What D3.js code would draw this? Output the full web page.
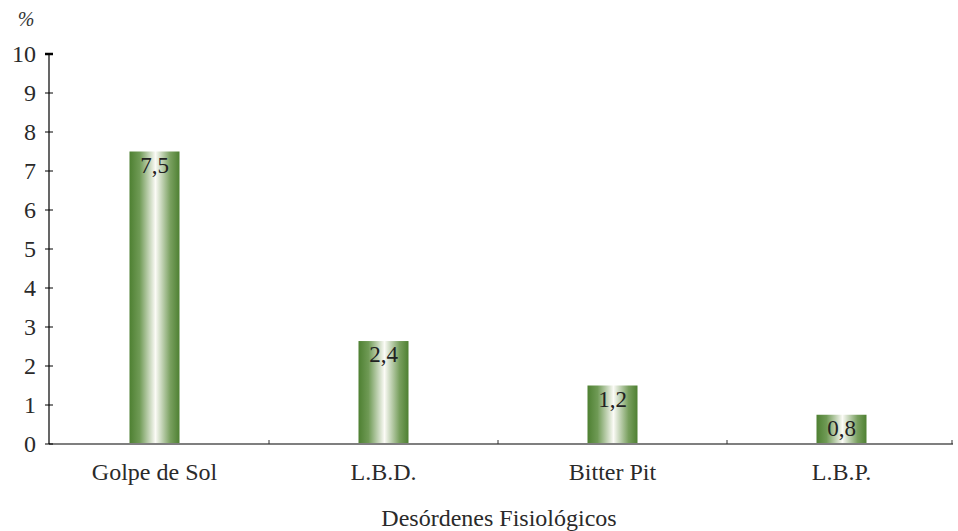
<!DOCTYPE html>
<html><head><meta charset="utf-8">
<script src="https://cdn.jsdelivr.net/npm/d3@7"></script>
<style>html,body{margin:0;padding:0;background:#fff;}svg{display:block;}
svg text{font-family:"Liberation Serif","DejaVu Serif","Noto Serif","Times New Roman",Times,serif;}</style>
</head><body>
<script>
const categories = ["Golpe de Sol", "L.B.D.", "Bitter Pit", "L.B.P."];
const barHeights = [7.5, 2.64, 1.5, 0.75];
const valueLabels = ["7,5", "2,4", "1,2", "0,8"];
const yTicks = [0,1,2,3,4,5,6,7,8,9,10];
const xTitle = "Desórdenes Fisiológicos";
const yUnit = "%";

const W = 958, H = 531;
const svg = d3.select("body").append("svg").attr("width", W).attr("height", H);

const defs = svg.append("defs");
const grad = defs.append("linearGradient").attr("id","barGrad").attr("x1","0").attr("x2","1").attr("y1","0").attr("y2","0");
[[0,"#4e8032"],[0.2,"#6f9a55"],[0.42,"#cfdcc4"],[0.52,"#fbfbf6"],[0.62,"#cfdcc4"],[0.82,"#789f5e"],[1,"#4e8032"]]
  .forEach(([o,c]) => grad.append("stop").attr("offset", o).attr("stop-color", c));

const x = d3.scaleBand().domain(categories).range([40, 956]).paddingInner(0).paddingOuter(0);
const y = d3.scaleLinear().domain([0, 10]).range([444, 54]);
const barW = 50;

svg.selectAll("rect.bar").data(categories).join("rect")
  .attr("class","bar")
  .attr("x", d => x(d) + x.bandwidth()/2 - barW/2)
  .attr("width", barW)
  .attr("y", (d,i) => y(barHeights[i]))
  .attr("height", (d,i) => y(0) - y(barHeights[i]))
  .attr("fill", "url(#barGrad)");

svg.selectAll("text.val").data(categories).join("text")
  .attr("class","val")
  .attr("x", d => x(d) + x.bandwidth()/2)
  .attr("y", (d,i) => y(barHeights[i]) + 21)
  .attr("text-anchor","middle")
  .attr("font-size", 23).attr("fill", "#222")
  .text((d,i) => valueLabels[i]);

svg.append("line").attr("x1", 49).attr("x2", 953).attr("y1", y(0)).attr("y2", y(0))
  .attr("stroke", "#7f7f7f").attr("stroke-width", 2);
const bounds = categories.map(c => Math.min(x(c) + x.bandwidth(), 952));
svg.selectAll("line.xt").data(bounds).join("line").attr("class","xt")
  .attr("x1", d => d).attr("x2", d => d).attr("y1", y(0)-4).attr("y2", y(0))
  .attr("stroke", "#333").attr("stroke-width", 1);
svg.selectAll("text.xl").data(categories).join("text").attr("class","xl")
  .attr("x", d => x(d) + x.bandwidth()/2)
  .attr("y", 480)
  .attr("text-anchor","middle")
  .attr("font-size", 24).attr("fill", "#2a2a2a")
  .text(d => d);

const yAxis = d3.axisLeft(y).tickValues(yTicks).tickSize(0).tickPadding(0);
const gy = svg.append("g").attr("transform", "translate(49,0)").call(yAxis);
gy.select(".domain").remove();
gy.selectAll("text").remove();
svg.append("line").attr("x1", 49).attr("x2", 49).attr("y1", y(10)).attr("y2", y(0))
  .attr("stroke", "#000").attr("stroke-width", 1.2);
svg.selectAll("line.yt").data(yTicks).join("line").attr("class","yt")
  .attr("x1", 45).attr("x2", 53).attr("y1", d => y(d)).attr("y2", d => y(d))
  .attr("stroke", "#000").attr("stroke-width", d => d === 10 ? 2.5 : 1);
svg.selectAll("text.yl").data(yTicks).join("text").attr("class","yl")
  .attr("x", 36).attr("y", d => y(d) + 8)
  .attr("text-anchor","end")
  .attr("font-size", 24).attr("fill", "#2a2a2a")
  .text(d => d);

svg.append("text").attr("x", 26).attr("y", 26).attr("text-anchor","middle")
  .attr("font-style","italic").attr("font-size", 20).attr("fill", "#333")
  .text(yUnit);

svg.append("text").attr("x", 499).attr("y", 526).attr("text-anchor","middle")
  .attr("font-size", 24).attr("fill", "#2a2a2a")
  .text(xTitle);
</script>
</body></html>
